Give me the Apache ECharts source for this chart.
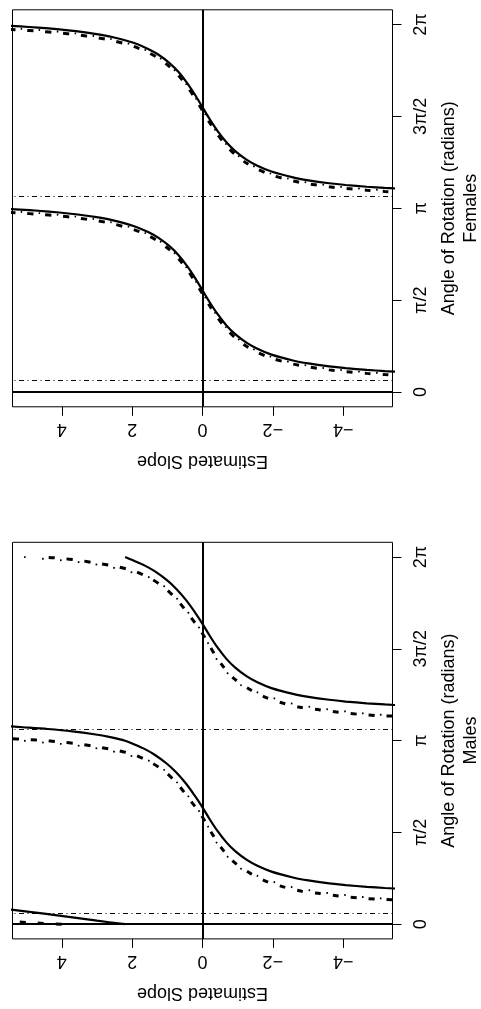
<!DOCTYPE html>
<html>
<head>
<meta charset="utf-8">
<script src="https://cdn.jsdelivr.net/npm/echarts@6/dist/echarts.min.js"></script>
<style>
html,body{margin:0;padding:0;background:#fff;}
#chart{width:481px;height:1009px;}
</style>
</head>
<body>
<div id="chart"></div>
<script>
// ---- tick labels ----
const slopeTicks = [-4, -2, 0, 2, 4];
const slopeTickLabels = ['\u22124', '\u22122', '0', '2', '4'];
const angleTicks = [0, Math.PI / 2, Math.PI, 3 * Math.PI / 2, 2 * Math.PI];
const angleTickLabels = ['0', '\u03c0/2', '\u03c0', '3\u03c0/2', '2\u03c0'];
const panelTitles = ['Females', 'Males'];

// ---- data: [angle (radians), estimated slope] ----
// Males
const malesRefAngles = [0.19, 3.33];
const malesSolidA = [[0, 2.2], [0.06, 3.0], [0.12, 3.75], [0.18, 4.5], [0.25, 5.45], [0.27, 5.7]];
const malesSolidB = [[0.60, -5.8], [0.62, -5.18], [0.64, -4.67], [0.67, -4.07], [0.70, -3.6], [0.75, -3.01], [0.80, -2.57], [0.90, -1.96], [1.00, -1.56], [1.10, -1.26], [1.25, -0.93], [1.40, -0.68], [1.60, -0.42], [1.80, -0.2], [2.00, 0], [2.20, 0.22], [2.40, 0.46], [2.60, 0.75], [2.75, 1.02], [2.90, 1.36], [3.00, 1.65], [3.08, 1.95], [3.14, 2.2], [3.20, 2.62], [3.25, 3.08], [3.30, 3.7], [3.34, 4.4], [3.37, 5.1], [3.39, 5.6], [3.40, 5.9]];
const malesSolidC = [[3.74, -5.8], [3.76, -5.18], [3.78, -4.67], [3.81, -4.07], [3.84, -3.6], [3.89, -3.01], [3.94, -2.57], [4.04, -1.96], [4.14, -1.56], [4.24, -1.26], [4.39, -0.93], [4.54, -0.68], [4.74, -0.42], [4.94, -0.2], [5.14, 0], [5.34, 0.22], [5.54, 0.46], [5.74, 0.75], [5.89, 1.02], [6.04, 1.36], [6.14, 1.65], [6.22, 1.95], [6.283, 2.2]];
const malesDashA = [[0, 4.0], [0.02, 4.7], [0.045, 5.4]];
const malesDashB = [[0.42, -5.4], [0.428, -4.95], [0.45, -4.43], [0.484, -3.86], [0.525, -3.34], [0.565, -2.82], [0.638, -2.30], [0.73, -1.83], [0.87, -1.36], [1.07, -0.88], [1.32, -0.52], [1.60, -0.22], [1.88, 0.05], [2.122, 0.35], [2.378, 0.68], [2.606, 1.06], [2.777, 1.49], [2.903, 1.96], [2.977, 2.45], [3.034, 3.0], [3.085, 3.52], [3.12, 4.06], [3.148, 4.61], [3.166, 5.18], [3.175, 5.4]];
const malesDashC = [[3.562, -5.4], [3.57, -4.95], [3.592, -4.43], [3.626, -3.86], [3.667, -3.34], [3.707, -2.82], [3.78, -2.30], [3.872, -1.83], [4.012, -1.36], [4.212, -0.88], [4.462, -0.52], [4.742, -0.22], [5.022, 0.05], [5.264, 0.35], [5.52, 0.68], [5.748, 1.06], [5.919, 1.49], [6.045, 1.96], [6.119, 2.45], [6.176, 3.0], [6.227, 3.52], [6.262, 4.06], [6.283, 4.6]];
const malesDotA = [[0, 4.7], [0.03, 5.4]];
const malesDotB = [[0.435, -5.4], [0.45, -4.81], [0.484, -4.29], [0.525, -3.68], [0.565, -3.20], [0.621, -2.63], [0.707, -2.11], [0.809, -1.64], [0.924, -1.16], [1.10, -0.8], [1.35, -0.45], [1.62, -0.2], [1.89, 0.03], [1.974, 0.16], [2.26, 0.49], [2.488, 0.82], [2.715, 1.25], [2.83, 1.68], [2.903, 2.2], [2.984, 2.72], [3.03, 3.24], [3.075, 3.81], [3.098, 4.35], [3.132, 4.89], [3.143, 5.18], [3.16, 5.4]];
const malesDotC = [[3.577, -5.4], [3.592, -4.81], [3.626, -4.29], [3.667, -3.68], [3.707, -3.20], [3.763, -2.63], [3.849, -2.11], [3.951, -1.64], [4.066, -1.16], [4.24, -0.8], [4.49, -0.45], [4.76, -0.2], [5.03, 0.03], [5.116, 0.16], [5.402, 0.49], [5.63, 0.82], [5.857, 1.25], [5.972, 1.68], [6.045, 2.20], [6.126, 2.72], [6.172, 3.24], [6.217, 3.81], [6.24, 4.35], [6.274, 4.89], [6.285, 5.18]];
// Females
const femalesRefAngles = [0.20, 3.34];
const femalesSolidB = [[0.34, -5.8], [0.36, -5.18], [0.38, -4.67], [0.41, -4.07], [0.44, -3.6], [0.49, -3.01], [0.54, -2.57], [0.64, -1.96], [0.74, -1.56], [0.84, -1.26], [0.99, -0.93], [1.14, -0.68], [1.34, -0.42], [1.54, -0.2], [1.74, 0], [1.94, 0.2], [2.14, 0.42], [2.34, 0.68], [2.49, 0.93], [2.64, 1.26], [2.74, 1.56], [2.84, 1.96], [2.94, 2.57], [2.99, 3.01], [3.04, 3.6], [3.07, 4.07], [3.10, 4.67], [3.12, 5.18], [3.14, 5.8]];
const femalesSolidC = [[3.47, -5.8], [3.49, -5.18], [3.51, -4.67], [3.54, -4.07], [3.57, -3.6], [3.62, -3.01], [3.67, -2.57], [3.77, -1.96], [3.87, -1.56], [3.97, -1.26], [4.12, -0.93], [4.27, -0.68], [4.47, -0.42], [4.67, -0.2], [4.87, 0], [5.07, 0.2], [5.27, 0.42], [5.47, 0.68], [5.62, 0.93], [5.77, 1.26], [5.87, 1.56], [5.97, 1.96], [6.07, 2.57], [6.12, 3.01], [6.17, 3.6], [6.20, 4.07], [6.23, 4.67], [6.25, 5.18], [6.27, 5.8]];
const femalesDashB = [[0.28, -5.8], [0.30, -5.18], [0.32, -4.67], [0.35, -4.07], [0.38, -3.6], [0.43, -3.01], [0.48, -2.57], [0.58, -1.96], [0.68, -1.56], [0.78, -1.26], [0.93, -0.93], [1.08, -0.68], [1.28, -0.42], [1.48, -0.2], [1.68, 0], [1.88, 0.2], [2.08, 0.42], [2.28, 0.68], [2.43, 0.93], [2.58, 1.26], [2.68, 1.56], [2.78, 1.96], [2.88, 2.57], [2.93, 3.01], [2.98, 3.6], [3.01, 4.07], [3.04, 4.67], [3.06, 5.18], [3.08, 5.8]];
const femalesDashC = [[3.41, -5.8], [3.43, -5.18], [3.45, -4.67], [3.48, -4.07], [3.51, -3.6], [3.56, -3.01], [3.61, -2.57], [3.71, -1.96], [3.81, -1.56], [3.91, -1.26], [4.06, -0.93], [4.21, -0.68], [4.41, -0.42], [4.61, -0.2], [4.81, 0], [5.01, 0.2], [5.21, 0.42], [5.41, 0.68], [5.56, 0.93], [5.71, 1.26], [5.81, 1.56], [5.91, 1.96], [6.01, 2.57], [6.06, 3.01], [6.11, 3.6], [6.14, 4.07], [6.17, 4.67], [6.19, 5.18], [6.21, 5.8]];
const femalesDotB = [[0.30, -5.8], [0.32, -5.18], [0.34, -4.67], [0.37, -4.07], [0.40, -3.6], [0.45, -3.01], [0.50, -2.57], [0.60, -1.96], [0.70, -1.56], [0.80, -1.26], [0.95, -0.93], [1.10, -0.68], [1.30, -0.42], [1.50, -0.2], [1.70, 0], [1.90, 0.2], [2.10, 0.42], [2.30, 0.68], [2.45, 0.93], [2.60, 1.26], [2.70, 1.56], [2.80, 1.96], [2.90, 2.57], [2.95, 3.01], [3.00, 3.6], [3.03, 4.07], [3.06, 4.67], [3.08, 5.18], [3.10, 5.8]];
const femalesDotC = [[3.43, -5.8], [3.45, -5.18], [3.47, -4.67], [3.50, -4.07], [3.53, -3.6], [3.58, -3.01], [3.63, -2.57], [3.73, -1.96], [3.83, -1.56], [3.93, -1.26], [4.08, -0.93], [4.23, -0.68], [4.43, -0.42], [4.63, -0.2], [4.83, 0], [5.03, 0.2], [5.23, 0.42], [5.43, 0.68], [5.58, 0.93], [5.73, 1.26], [5.83, 1.56], [5.93, 1.96], [6.03, 2.57], [6.08, 3.01], [6.13, 3.6], [6.16, 4.07], [6.19, 4.67], [6.21, 5.18], [6.23, 5.8]];

// ---- build ----
const FONT = "'Liberation Sans', Arial, Helvetica, sans-serif";
const FS = 18;
const toXY = arr => arr.map(p => [p[1], p[0]]);

const grids = [
  { left: 12.5, top: 9.8, width: 380, height: 397, show: true, borderColor: '#000', borderWidth: 1, backgroundColor: 'transparent', outerBoundsMode: 'none' },
  { left: 12.5, top: 542.3, width: 380, height: 396.6, show: true, borderColor: '#000', borderWidth: 1, backgroundColor: 'transparent', outerBoundsMode: 'none' }
];

function xAx(i) {
  return {
    type: 'value', gridIndex: i, min: -5.4, max: 5.4, inverse: true, position: 'bottom',
    splitLine: { show: false }, axisLine: { show: false, onZero: false },
    axisTick: { show: true, length: 9, customValues: slopeTicks, lineStyle: { color: '#000', width: 1 } },
    axisLabel: {
      show: true, customValues: slopeTicks, rotate: 180, margin: 13,
      color: '#000', fontFamily: FONT, fontSize: FS,
      formatter: v => slopeTickLabels[slopeTicks.indexOf(Math.round(v))]
    },
    name: 'Estimated Slope', nameLocation: 'middle', nameRotate: 180, nameGap: 45,
    nameTextStyle: { color: '#000', fontFamily: FONT, fontSize: FS }
  };
}
function yAx(i) {
  return {
    type: 'value', gridIndex: i, min: -0.2513, max: 6.5345, position: 'right',
    splitLine: { show: false }, axisLine: { show: false, onZero: false },
    axisTick: { show: true, length: 9, customValues: angleTicks, lineStyle: { color: '#000', width: 1 } },
    axisLabel: {
      show: true, customValues: angleTicks, rotate: 90, margin: 20,
      color: '#000', fontFamily: FONT, fontSize: FS,
      formatter: v => {
        let best = 0;
        angleTicks.forEach((t, k) => { if (Math.abs(t - v) < Math.abs(angleTicks[best] - v)) best = k; });
        return angleTickLabels[best];
      }
    }
  };
}

const series = [];
function line(i, data, style) {
  series.push({
    type: 'line', xAxisIndex: i, yAxisIndex: i, data: toXY(data), showSymbol: false, symbol: 'none',
    smooth: 0.3, clip: true, silent: true, animation: false,
    lineStyle: Object.assign({ color: '#000' }, style)
  });
}
function refs(i, refAngles) {
  series.push({
    type: 'line', xAxisIndex: i, yAxisIndex: i, data: [], silent: true, animation: false,
    markLine: {
      symbol: 'none', silent: true, animation: false, label: { show: false },
      data: [
        { xAxis: 0, lineStyle: { color: '#000', width: 2, type: 'solid' } },
        { yAxis: 0, lineStyle: { color: '#000', width: 2, type: 'solid' } }
      ].concat(refAngles.map(a => ({ yAxis: a, lineStyle: { color: '#000', width: 1, type: [1, 3.5, 5, 3.5] } })))
    }
  });
}

const solidStyle = { width: 2.2, type: 'solid' };
const dashStyle = { width: 3, type: [6, 12] };
const dotStyle = { width: 1.8, type: [1.6, 16.4], dashOffset: -11 };

// Females (grid 0)
refs(0, femalesRefAngles);
[femalesDotB, femalesDotC].forEach(d => line(0, d, dotStyle));
[femalesDashB, femalesDashC].forEach(d => line(0, d, dashStyle));
[femalesSolidB, femalesSolidC].forEach(d => line(0, d, solidStyle));
// Males (grid 1)
refs(1, malesRefAngles);
[malesDotA, malesDotB, malesDotC].forEach(d => line(1, d, dotStyle));
[malesDashA, malesDashB, malesDashC].forEach(d => line(1, d, dashStyle));
[malesSolidA, malesSolidB, malesSolidC].forEach(d => line(1, d, solidStyle));

function titleText(x, y, text) {
  return { type: 'text', x: x, y: y, rotation: Math.PI / 2, silent: true,
    style: { text: text, fill: '#000', font: FS + 'px ' + FONT, align: 'center', verticalAlign: 'middle' } };
}

const chart = echarts.init(document.getElementById('chart'), null, { renderer: 'canvas' });
chart.setOption({
  backgroundColor: '#fff',
  animation: false,
  grid: grids,
  xAxis: [xAx(0), xAx(1)],
  yAxis: [yAx(0), yAx(1)],
  series: series,
  graphic: [
    titleText(449, 208.3, 'Angle of Rotation (radians)'),
    titleText(471, 208.3, panelTitles[0]),
    titleText(449, 740.6, 'Angle of Rotation (radians)'),
    titleText(471, 740.6, panelTitles[1])
  ]
});
</script>
</body>
</html>
